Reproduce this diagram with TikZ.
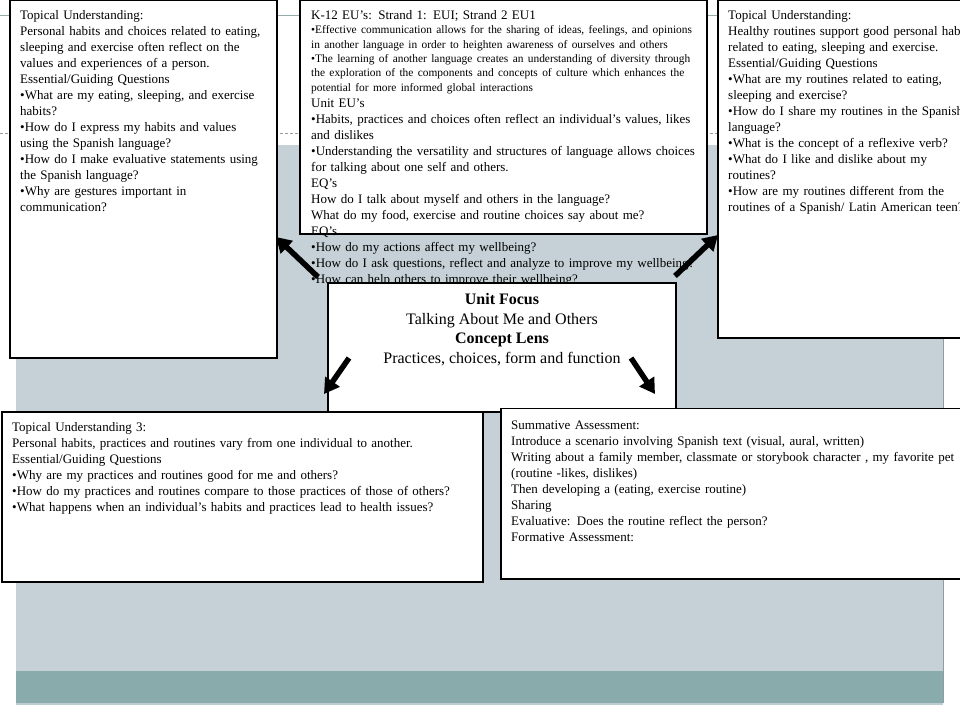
\documentclass[tikz,border=0pt]{standalone}
\usepackage{fontspec}
\setmainfont{Liberation Serif}
\usetikzlibrary{arrows.meta}
\definecolor{panelgray}{HTML}{C5D1D7}
\definecolor{bandteal}{HTML}{8AABAC}
\definecolor{bandlight}{HTML}{BCCDCF}
\definecolor{edgegray}{HTML}{8C9DA4}
\definecolor{topline}{HTML}{93ABAB}
\definecolor{dashline}{HTML}{9A9A9A}
\begin{document}
\begin{tikzpicture}[x=1pt,y=-1pt,
  box/.style={draw=black, line width=1.2pt, fill=white},
  txt/.style={anchor=north west, inner sep=0pt, align=left, text width=#1,
              font=\fontsize{13}{16}\selectfont},
  bigarrow/.style={line width=5.5pt, -{Triangle[length=15pt,width=17pt]}}]
\path[use as bounding box] (0,0) rectangle (960,720);
\clip (0,0) rectangle (960,720);
\fill[white] (0,0) rectangle (960,720);
% background slide
\fill[panelgray] (16,145) rectangle (943,671);
\fill[bandteal] (16,671) rectangle (943,703);
\fill[bandlight] (16,703) rectangle (943,705);
\draw[edgegray, line width=0.8pt] (943,145) -- (943,703);
\draw[topline, line width=0.8pt] (0,15.5) -- (960,15.5);
\draw[dashline, line width=0.6pt, dash pattern=on 3pt off 2pt] (0,133.5) -- (960,133.5);

% top-left box
\draw[box] (10,0.5) rectangle (277,358);
\node[txt=300pt] (tlt) at (20,10) {Topical Understanding:\\
Personal habits and choices related to eating,\\
sleeping and exercise often reflect on the\\
values and experiences of a person.\\
Essential/Guiding Questions\\
•What are my eating, sleeping, and exercise\\
habits?\\
•How do I express my habits and values\\
using the Spanish language?\\
•How do I make evaluative statements using\\
the Spanish language?\\
•Why are gestures important in\\
communication?};

% top-middle box
\draw[box] (300,0.5) rectangle (707,234);
\node[txt=440pt] (tmt) at (311,10) {K-12 EU’s: Strand 1: EUI; Strand 2 EU1\par
{\fontsize{11.4}{14.4}\selectfont •Effective communication allows for the sharing of ideas, feelings, and opinions\\
in another language in order to heighten awareness of ourselves and others\\
•The learning of another language creates an understanding of diversity through\\
the exploration of the components and concepts of culture which enhances the\\
potential for more informed global interactions\par}
Unit EU’s\\
•Habits, practices and choices often reflect an individual’s values, likes\\
and dislikes\\
•Understanding the versatility and structures of language allows choices\\
for talking about one self and others.\\
EQ’s\\
How do I talk about myself and others in the language?\\
What do my food, exercise and routine choices say about me?\\
EQ’s\\
•How do my actions affect my wellbeing?\\
•How do I ask questions, reflect and analyze to improve my wellbeing?\\
•How can help others to improve their wellbeing?};

% top-right box
\draw[box] (718,0.5) rectangle (970,338);
\node[txt=300pt] (trt) at (728,10) {Topical Understanding:\\
Healthy routines support good personal habits\\
related to eating, sleeping and exercise.\\
Essential/Guiding Questions\\
•What are my routines related to eating,\\
sleeping and exercise?\\
•How do I share my routines in the Spanish\\
language?\\
•What is the concept of a reflexive verb?\\
•What do I like and dislike about my\\
routines?\\
•How are my routines different from the\\
routines of a Spanish/ Latin American teen?};

% center box
\draw[box] (328,283) rectangle (676,412);
\node[anchor=north, inner sep=0pt, align=center, font=\fontsize{16}{19.5}\selectfont] (ct) at (502,293.5)
 {\textbf{Unit Focus}\\ Talking About Me and Others\\ \textbf{Concept Lens}\\ Practices, choices, form and function};

% bottom-left box
\draw[box] (2,412) rectangle (483,582);
\node[txt=520pt] (blt) at (12,422) {Topical Understanding 3:\\
Personal habits, practices and routines vary from one individual to another.\\
Essential/Guiding Questions\\
•Why are my practices and routines good for me and others?\\
•How do my practices and routines compare to those practices of those of others?\\
•What happens when an individual’s habits and practices lead to health issues?};

% bottom-right box
\draw[box] (501,408.5) rectangle (970,579);
\node[txt=520pt] (brt) at (511,420.5) {Summative Assessment:\\
Introduce a scenario involving Spanish text (visual, aural, written)\\
Writing about a family member, classmate or storybook character , my favorite pet\\
(routine -likes, dislikes)\\
Then developing a (eating, exercise routine)\\
Sharing\\
Evaluative: Does the routine reflect the person?\\
Formative Assessment:};

% arrows
\coordinate (a1s) at (318,277); \coordinate (a1e) at (276,237);
\coordinate (a2s) at (675,276); \coordinate (a2e) at (718,235);
\coordinate (a3s) at (349,358); \coordinate (a3e) at (324,394);
\coordinate (a4s) at (631,358); \coordinate (a4e) at (655,394);
\draw[bigarrow] (a1s) -- (a1e);
\draw[bigarrow] (a2s) -- (a2e);
\draw[bigarrow] (a3s) -- (a3e);
\draw[bigarrow] (a4s) -- (a4e);
\end{tikzpicture}
\end{document}
